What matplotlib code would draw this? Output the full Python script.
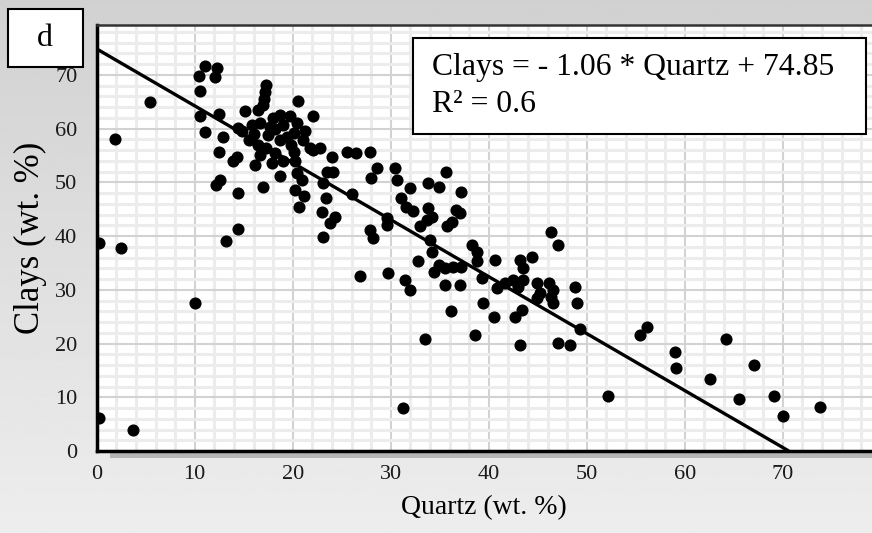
import numpy as np
import matplotlib
matplotlib.use("Agg")
import matplotlib.pyplot as plt
from matplotlib.patches import Rectangle

plt.rcParams['font.family'] = ['Liberation Serif', 'DejaVu Serif']

# --- data ---
quartz = [0.2, 2.5, 1.9, 5.4, 0.2, 3.7, 10.0,
          11.1, 12.3, 10.4, 12.1, 10.5, 10.5, 11.1, 12.5, 12.9, 12.5, 12.6, 12.2,
          13.9, 14.3, 14.4, 13.2, 14.4, 15.1, 14.4,
          17.3, 17.2, 17.1, 17.0, 16.5, 15.8, 16.7, 17.7, 18.7, 19.7, 20.4, 21.3,
          19.4, 18.7, 15.5, 17.3, 18.2, 16.7, 20.1, 21.8, 22.8, 24.0, 25.5, 26.5,
          27.9, 16.2, 17.9, 19.0, 20.2, 18.7, 20.4, 20.9, 23.5, 24.1, 23.1, 20.2,
          21.1, 20.6, 23.4, 26.0, 17.0, 20.5, 22.1, 20.1, 22.1, 23.0, 23.8, 24.3,
          23.1, 16.0, 17.5, 18.2, 19.0, 14.8, 16.5, 19.8, 21.0, 18.0,
          28.6, 28.0, 30.4, 30.6, 35.6, 33.8, 34.9, 32.0, 37.2, 31.0, 31.6, 32.3,
          33.8, 34.2, 36.7, 37.1, 36.2, 35.7, 33.0, 33.7, 29.6, 29.6, 27.9, 28.2,
          34.2, 32.8, 34.0, 38.3, 38.8, 36.4, 37.2, 34.4, 34.9, 35.5, 35.5, 37.1,
          29.7, 26.9, 31.5, 32.0, 36.1, 38.8, 39.3, 40.6, 40.8, 41.7, 39.4, 40.5,
          38.6, 33.5, 43.2, 44.4, 43.5, 46.4, 47.1, 42.5, 43.5, 43.0, 44.9, 46.1,
          46.6, 45.2, 46.3, 44.9, 46.6, 43.4, 42.7, 43.2, 47.1, 48.3, 48.8, 49.0,
          49.3, 31.3,
          55.4, 56.1, 52.2, 59.0, 59.1, 64.2, 67.1, 62.6, 65.5, 69.1, 70.0, 73.8]
clays = [38.7, 37.8, 58.1, 64.9, 6.2, 4.0, 27.6,
         71.7, 71.3, 69.8, 69.7, 67.0, 62.3, 59.3, 62.8, 58.5, 55.7, 50.5, 49.5,
         53.9, 54.8, 48.0, 39.1, 41.3, 63.2, 60.1,
         68.2, 66.9, 65.6, 64.4, 63.5, 60.7, 61.0, 60.4, 62.6, 62.3, 61.0, 59.5,
         58.5, 57.9, 57.9, 56.4, 55.4, 55.1, 55.7, 56.4, 56.4, 54.8, 55.7, 55.5,
         55.6, 53.3, 53.6, 53.9, 53.9, 51.1, 51.7, 50.5, 52.0, 52.0, 49.8, 48.6,
         47.4, 45.5, 47.1, 47.9, 49.2, 65.2, 62.3, 59.2, 56.1, 44.4, 42.4, 43.6,
         39.9, 59.0, 58.8, 60.0, 60.6, 59.5, 57.0, 57.0, 57.8, 62.0,
         52.6, 50.8, 52.6, 50.5, 52.0, 49.8, 49.2, 48.9, 48.3, 47.1, 45.5, 44.6,
         45.2, 43.6, 44.9, 44.3, 42.7, 41.8, 41.8, 43.0, 43.3, 42.1, 41.2, 39.6,
         37.1, 35.3, 39.3, 38.4, 37.1, 34.3, 34.3, 33.4, 34.6, 34.0, 30.9, 30.9,
         33.1, 32.5, 31.8, 30.0, 26.0, 35.3, 32.2, 35.6, 30.3, 31.2, 27.5, 25.0,
         21.6, 20.9, 35.6, 36.2, 34.0, 40.8, 38.4, 31.8, 31.8, 30.6, 31.2, 31.2,
         30.0, 29.4, 28.7, 28.4, 27.5, 26.3, 25.0, 19.7, 20.1, 19.7, 30.5, 27.5,
         22.8, 8.0,
         21.6, 23.1, 10.3, 18.5, 15.5, 20.8, 16.0, 13.4, 9.6, 10.3, 6.6, 8.1]

slope = -1.06
intercept = 74.85
r2 = 0.6
panel_label = "d"
x_ticks = [0, 10, 20, 30, 40, 50, 60, 70]
y_ticks = [0, 10, 20, 30, 40, 50, 60, 70]

W, H = 872, 533
fig = plt.figure(figsize=(W / 100, H / 100), dpi=100)

# grey gradient background
bg = fig.add_axes([0, 0, 1, 1], zorder=-10)
grad = np.linspace(0.82, 0.93, 200).reshape(-1, 1)
bg.imshow(grad, cmap='gray', vmin=0, vmax=1, aspect='auto', extent=[0, 1, 0, 1])
bg.axis('off')

# axes placed in pixel terms
left, right, top, bottom = 96.7, 872, 25, 451
ax = fig.add_axes([left / W, 1 - bottom / H, (right - left) / W, (bottom - top) / H])
ax.set_facecolor('white')
ax.set_xlim(0, 79.1)
ax.set_ylim(0, 79.3)

ax.set_xticks(x_ticks)
ax.set_yticks(y_ticks)
ax.set_xticks(np.arange(0, 80, 2), minor=True)
ax.set_yticks(np.arange(0, 80, 2), minor=True)
ax.grid(which='minor', color='#ececec', linewidth=2.2, zorder=0)
ax.grid(which='major', color='#d2d2d2', linewidth=1.5, zorder=0)
ax.set_axisbelow(True)
ax.tick_params(which='both', length=0)
ax.tick_params(axis='x', labelsize=16, pad=10, labelcolor='#1a1a1a')
ax.tick_params(axis='y', labelsize=16, pad=14, labelcolor='#1a1a1a')

for s in ['left', 'bottom']:
    ax.spines[s].set_linewidth(2.5)
    ax.spines[s].set_color('black')
ax.spines['top'].set_linewidth(1.8)
ax.spines['top'].set_color('#333333')
ax.spines['right'].set_visible(False)

ax.scatter(quartz, clays, s=76, color='black', zorder=3, linewidths=0)

x_end = -intercept / slope
xs = np.array([0, x_end])
ax.plot(xs, slope * xs + intercept, color='black', linewidth=2.4, zorder=4,
        solid_capstyle='butt')

ax.set_xlabel("Quartz (wt. %)", fontsize=20, labelpad=8)
ax.set_ylabel("Clays (wt. %)", fontsize=25, labelpad=6)

# shadow under the x axis
fig.patches.append(Rectangle((110 / W, 1 - 458 / H), 1, 6 / H, transform=fig.transFigure,
                             facecolor='#b5b5b5', edgecolor='none', zorder=-5))

# panel label box
fig.patches.append(Rectangle((8 / W, 1 - 67 / H), 75 / W, 58 / H, transform=fig.transFigure,
                             facecolor='white', edgecolor='black', linewidth=1.5, zorder=5))
fig.text(45 / W, 1 - 38 / H, panel_label, fontsize=23, ha='center', va='center', zorder=6)

# equation box
fig.patches.append(Rectangle((413 / W, 1 - 134 / H), 453 / W, 96 / H, transform=fig.transFigure,
                             facecolor='white', edgecolor='black', linewidth=1.5, zorder=5))
fig.text(432 / W, 1 - 68 / H, f"Clays = - {abs(slope):.2f} * Quartz + {intercept:.2f}",
         fontsize=22.8, ha='left', va='center', zorder=6)
fig.text(432 / W, 1 - 105 / H, f"R\u00b2 = {r2}", fontsize=22.8, ha='left', va='center', zorder=6)

fig.savefig("out.png", dpi=100)
